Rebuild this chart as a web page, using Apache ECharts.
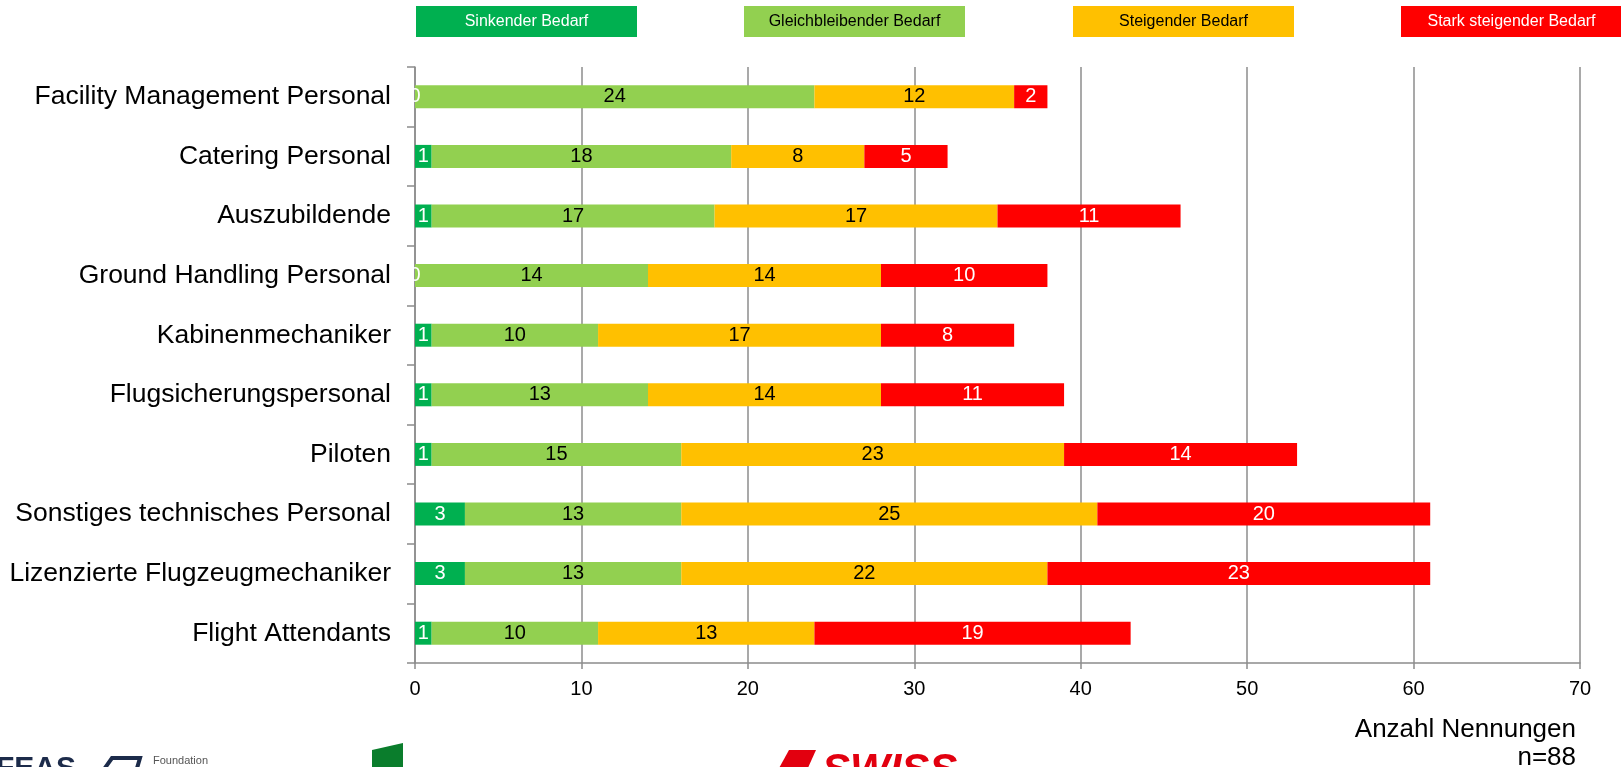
<!DOCTYPE html>
<html>
<head>
<meta charset="utf-8">
<script src="https://cdn.jsdelivr.net/npm/echarts@6/dist/echarts.min.js"></script>
<style>
html,body{margin:0;padding:0;background:#fff;}
#chart{width:1621px;height:767px;}
</style>
</head>
<body>
<div id="chart"></div>
<script>
const categories = [
  "Facility Management Personal",
  "Catering Personal",
  "Auszubildende",
  "Ground Handling Personal",
  "Kabinenmechaniker",
  "Flugsicherungspersonal",
  "Piloten",
  "Sonstiges technisches Personal",
  "Lizenzierte Flugzeugmechaniker",
  "Flight Attendants"
];
const seriesNames = ["Sinkender Bedarf", "Gleichbleibender Bedarf", "Steigender Bedarf", "Stark steigender Bedarf"];
const sinkend       = [0, 1, 1, 0, 1, 1, 1, 3, 3, 1];
const gleichbleibend = [24, 18, 17, 14, 10, 13, 15, 13, 13, 10];
const steigend      = [12, 8, 17, 14, 17, 14, 23, 25, 22, 13];
const starkSteigend = [2, 5, 11, 10, 8, 11, 14, 20, 23, 19];
const xTicks = [0, 10, 20, 30, 40, 50, 60, 70];
const axisTitle = "Anzahl Nennungen";
const sampleNote = "n=88";

const colors = ["#00B050", "#92D050", "#FFC000", "#FF0000"];
const labelColors = ["#ffffff", "#000000", "#000000", "#ffffff"];
const values = [sinkend, gleichbleibend, steigend, starkSteigend];
const FONT = "'Liberation Sans', Arial, Helvetica, sans-serif";
const GRID_COLOR = "#8c8c8c";

const chart = echarts.init(document.getElementById('chart'), null, {renderer: 'canvas'});

const series = seriesNames.map((name, i) => ({
  name: name,
  type: 'bar',
  stack: 'total',
  barWidth: 23,
  data: values[i],
  itemStyle: { color: colors[i] },
  label: {
    show: true,
    position: 'inside',
    color: labelColors[i],
    fontFamily: FONT,
    fontSize: 20,
    formatter: p => String(p.value)
  },
  emphasis: { disabled: true },
  animation: false
}));

const legendX = [416, 744, 1073, 1401];
const graphics = [];
seriesNames.forEach((name, i) => {
  graphics.push({
    type: 'rect',
    left: legendX[i], top: 6,
    shape: { width: 221, height: 31 },
    style: { fill: colors[i] }
  });
  graphics.push({
    type: 'text',
    x: legendX[i] + 110.5, y: 21.5,
    style: {
      text: name, fill: labelColors[i], font: '16px ' + FONT,
      textAlign: 'center', textVerticalAlign: 'middle'
    }
  });
});
graphics.push({
  type: 'text', x: 1576, y: 730,
  style: { text: axisTitle, fill: '#000', font: '26px ' + FONT, textAlign: 'right', textVerticalAlign: 'middle' }
});
graphics.push({
  type: 'text', x: 1576, y: 758,
  style: { text: sampleNote, fill: '#000', font: '26px ' + FONT, textAlign: 'right', textVerticalAlign: 'middle' }
});
// partially visible logos at the bottom edge
graphics.push({
  type: 'text', x: -4, y: 754,
  style: { text: 'FEAS', fill: '#1c2b4a', font: 'bold 30px ' + FONT, textAlign: 'left', textVerticalAlign: 'top' }
});
graphics.push({
  type: 'polyline',
  shape: { points: [[100, 775], [112, 758], [140, 758], [135, 775]] },
  style: { stroke: '#1c2b4a', lineWidth: 4, fill: null }
});
graphics.push({
  type: 'text', x: 153, y: 761,
  style: { text: 'Foundation', fill: '#555', font: '11px ' + FONT, textAlign: 'left', textVerticalAlign: 'middle' }
});
graphics.push({
  type: 'polygon',
  shape: { points: [[372, 750], [403, 743], [403, 767], [372, 767]] },
  style: { fill: '#0a7d2c' }
});
graphics.push({
  type: 'polygon',
  shape: { points: [[789, 750], [816, 750], [807, 770], [778, 770]] },
  style: { fill: '#e2000f' }
});
graphics.push({
  type: 'text', x: 822, y: 750,
  style: { text: 'SWISS', fill: '#e2000f', font: 'bold italic 42px ' + FONT, textAlign: 'left', textVerticalAlign: 'top' }
});

chart.setOption({
  backgroundColor: '#ffffff',
  animation: false,
  grid: { left: 415, right: 41, top: 67, bottom: 104, containLabel: false },
  xAxis: {
    type: 'value',
    min: xTicks[0],
    max: xTicks[xTicks.length - 1],
    interval: xTicks[1] - xTicks[0],
    axisLine: { show: true, lineStyle: { color: GRID_COLOR, width: 1.5 } },
    axisTick: { show: true, length: 6, lineStyle: { color: GRID_COLOR, width: 1.5 } },
    splitLine: { show: true, lineStyle: { color: GRID_COLOR, width: 1.5 } },
    axisLabel: { color: '#000', fontFamily: FONT, fontSize: 20, margin: 16 }
  },
  yAxis: {
    type: 'category',
    inverse: true,
    data: categories,
    axisLine: { show: true, lineStyle: { color: GRID_COLOR, width: 1.5 } },
    axisTick: { show: true, length: 8, alignWithLabel: false, lineStyle: { color: GRID_COLOR, width: 1.5 } },
    axisLabel: { color: '#000', fontFamily: FONT, fontSize: 26.5, margin: 24, padding: [5, 0, 0, 0] }
  },
  series: series,
  graphic: graphics
});
</script>
</body>
</html>
